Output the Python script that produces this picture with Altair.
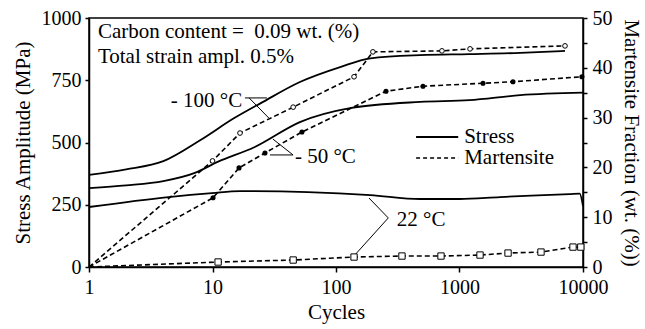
import altair as alt
import pandas as pd

FONT = "Times New Roman, Liberation Serif, Times, DejaVu Serif, serif"

# ---- stress amplitude curves (cycles, MPa) ----
cyc_s100 = [1, 2, 4, 8, 15, 25, 51, 108, 190, 480, 1200, 3100, 7150]
str_s100 = [370, 392, 425, 510, 598, 660, 743, 803, 838, 851, 855, 860, 868]

cyc_s50 = [1, 2, 4, 7.2, 11, 22, 51, 130, 480, 1200, 3100, 10000]
str_s50 = [317, 328, 345, 378, 422, 482, 582, 638, 663, 670, 690, 700]

cyc_s22 = [1, 4.4, 9.9, 16.7, 59, 190, 480, 1000, 2130, 7800, 9400, 10000]
str_s22 = [241, 281, 297, 305, 301, 289, 273, 273, 281, 293, 295, 245]

# ---- martensite fraction (cycles, wt. %) ----
cyc_m100 = [1, 10, 16.7, 45, 140, 199, 721, 1217, 7150]
mar_m100 = [0, 21.3, 26.9, 32.1, 38.2, 43.2, 43.4, 43.8, 44.4]

cyc_m50 = [1, 10.1, 16.4, 26.6, 53, 254, 506, 1550, 2710, 9800]
mar_m50 = [0, 13.9, 19.9, 22.9, 27.1, 35.3, 36.3, 36.9, 37.2, 38.2]

cyc_m22 = [1, 11.1, 45, 140, 342, 708, 1466, 2472, 4570, 8300, 9600]
mar_m22 = [0, 1.0, 1.4, 2.0, 2.2, 2.2, 2.4, 2.8, 3.0, 4.0, 4.0]

# ---- annotation texts and anchors (data coords: cycles, MPa) ----
note_text = ["Carbon content =\u00a0 0.09 wt. (%)", "Total strain ampl. 0.5%"]
note_x = [1.18, 1.18]
note_y = [944, 843]

temp_text = ["- 100 °C", "- 50 °C", "22 °C"]
temp_x = [17.4, 46.5, 311]
temp_y = [667, 442, 189]
temp_align = ["right", "left", "left"]

lead_x = [18.3, 19.8, 29.2, 30.8, 185, 265]
lead_y = [679, 679, 450, 514, 277, 197]
lead_x2 = [27.6, 28.6, 44.9, 44.9, 265, 142]
lead_y2 = [679, 598, 450, 450, 197, 48]

leg_text = ["Stress", "Martensite"]
leg_x1 = [445, 445]
leg_x2 = [976, 976]
leg_tx = [1091, 1091]
leg_y = [522, 438]

# ---- tables ----
def long(name, xs, ys, col):
    return pd.DataFrame({"n": xs, col: ys, "series": name})

df_stress = pd.concat([
    long("-100", cyc_s100, str_s100, "v"),
    long("-50", cyc_s50, str_s50, "v"),
    long("22", cyc_s22, str_s22, "v"),
])
df_m100 = long("-100", cyc_m100, mar_m100, "m")
df_m50 = long("-50", cyc_m50, mar_m50, "m")
df_m22 = long("22", cyc_m22, mar_m22, "m")
df_mart = pd.concat([df_m100, df_m50, df_m22])

df_note = pd.DataFrame({"t": note_text, "n": note_x, "v": note_y})
df_temp = pd.DataFrame({"t": temp_text, "n": temp_x, "v": temp_y, "a": temp_align})
df_lead = pd.DataFrame({"n": lead_x, "v": lead_y, "n2": lead_x2, "v2": lead_y2})
df_leg_s = pd.DataFrame({"n": leg_x1[:1], "n2": leg_x2[:1], "v": leg_y[:1]})
df_leg_m = pd.DataFrame({"n": leg_x1[1:], "n2": leg_x2[1:], "v": leg_y[1:]})
df_leg_t = pd.DataFrame({"t": leg_text, "n": leg_tx, "v": leg_y})

FS = 21
xscale = alt.Scale(type="log", domain=[1, 10000])
xaxis = alt.Axis(values=[1, 10, 100, 1000, 10000], format="d", title="Cycles",
                 labelFlush=False, grid=False, tickSize=5, labelPadding=5,
                 titlePadding=4)
yscale_l = alt.Scale(domain=[0, 1000], nice=False)
yaxis_l = alt.Axis(values=[0, 250, 500, 750, 1000], format="d",
                   title="Stress Amplitude (MPa)",
                   grid=False, tickSize=4, labelPadding=4, titlePadding=8)
yscale_r = alt.Scale(domain=[0, 50], nice=False)
yaxis_r = alt.Axis(values=[0, 5, 10, 15, 20, 25, 30, 35, 40, 45, 50],
                   labelExpr="datum.value % 10 == 0 ? datum.label : ''",
                   title="Martensite Fraction (wt. (%))", orient="right",
                   grid=False, tickSize=4, labelPadding=5, titlePadding=8)

X = alt.X("n:Q", scale=xscale, axis=xaxis)
YL = alt.Y("v:Q", scale=yscale_l, axis=yaxis_l)
YR = alt.Y("m:Q", scale=yscale_r, axis=yaxis_r)

stress_lines = alt.Chart(df_stress).mark_line(
    interpolate="monotone", color="black", strokeWidth=1.8
).encode(x=X, y=YL, detail="series:N")

leaders = alt.Chart(df_lead).mark_rule(color="black", strokeWidth=1).encode(
    x=X, y=YL, x2="n2:Q", y2="v2:Q")

leg_s = alt.Chart(df_leg_s).mark_rule(color="black", strokeWidth=1.8).encode(
    x=X, y=YL, x2="n2:Q")
leg_m = alt.Chart(df_leg_m).mark_rule(color="black", strokeWidth=1.6,
                                      strokeDash=[4, 3]).encode(x=X, y=YL, x2="n2:Q")
leg_t = alt.Chart(df_leg_t).mark_text(align="left", baseline="middle", font=FONT,
                                      fontSize=FS, color="black").encode(x=X, y=YL, text="t:N")

notes = alt.Chart(df_note).mark_text(align="left", baseline="middle", font=FONT,
                                     fontSize=FS, color="black").encode(x=X, y=YL, text="t:N")
temp_r = alt.Chart(df_temp[df_temp.a == "right"]).mark_text(
    align="right", baseline="middle", font=FONT, fontSize=FS, color="black"
).encode(x=X, y=YL, text="t:N")
temp_l = alt.Chart(df_temp[df_temp.a == "left"]).mark_text(
    align="left", baseline="middle", font=FONT, fontSize=FS, color="black"
).encode(x=X, y=YL, text="t:N")

left = alt.layer(stress_lines, leaders, leg_s, leg_m, leg_t, notes, temp_r, temp_l)

mart_lines = alt.Chart(df_mart).mark_line(
    color="black", strokeWidth=1.6, strokeDash=[5, 3]
).encode(x=X, y=YR, detail="series:N")
pts100 = alt.Chart(df_m100[df_m100.n > 1]).mark_point(
    shape="circle", filled=True, fill="white", stroke="black", strokeWidth=1, size=22, opacity=1
).encode(x=X, y=YR)
pts50 = alt.Chart(df_m50[df_m50.n > 1]).mark_point(
    shape="circle", filled=True, color="black", size=26, opacity=1
).encode(x=X, y=YR)
pts22 = alt.Chart(df_m22[df_m22.n > 1]).mark_point(
    shape="square", filled=True, fill="white", stroke="black", strokeWidth=1, size=40, opacity=1
).encode(x=X, y=YR)

right = alt.layer(mart_lines, pts100, pts50, pts22)

chart = alt.layer(left, right).resolve_scale(y="independent").properties(
    width=494, height=249,
    padding={"left": 89, "top": 18, "right": 62, "bottom": 62},
    autosize=alt.AutoSizeParams(type="none"),
    background="white",
).configure(font=FONT).configure_text(font=FONT).configure_view(
    stroke="black", strokeWidth=1.5
).configure_axis(
    labelFont=FONT, titleFont=FONT, labelFontSize=20, titleFontSize=21,
    labelColor="black", titleColor="black", titleFontWeight="normal",
    domainColor="black", tickColor="black", domainWidth=1.5, tickWidth=1.5,
)

chart.save("out.html", embed_options={"renderer": "svg", "actions": False})
